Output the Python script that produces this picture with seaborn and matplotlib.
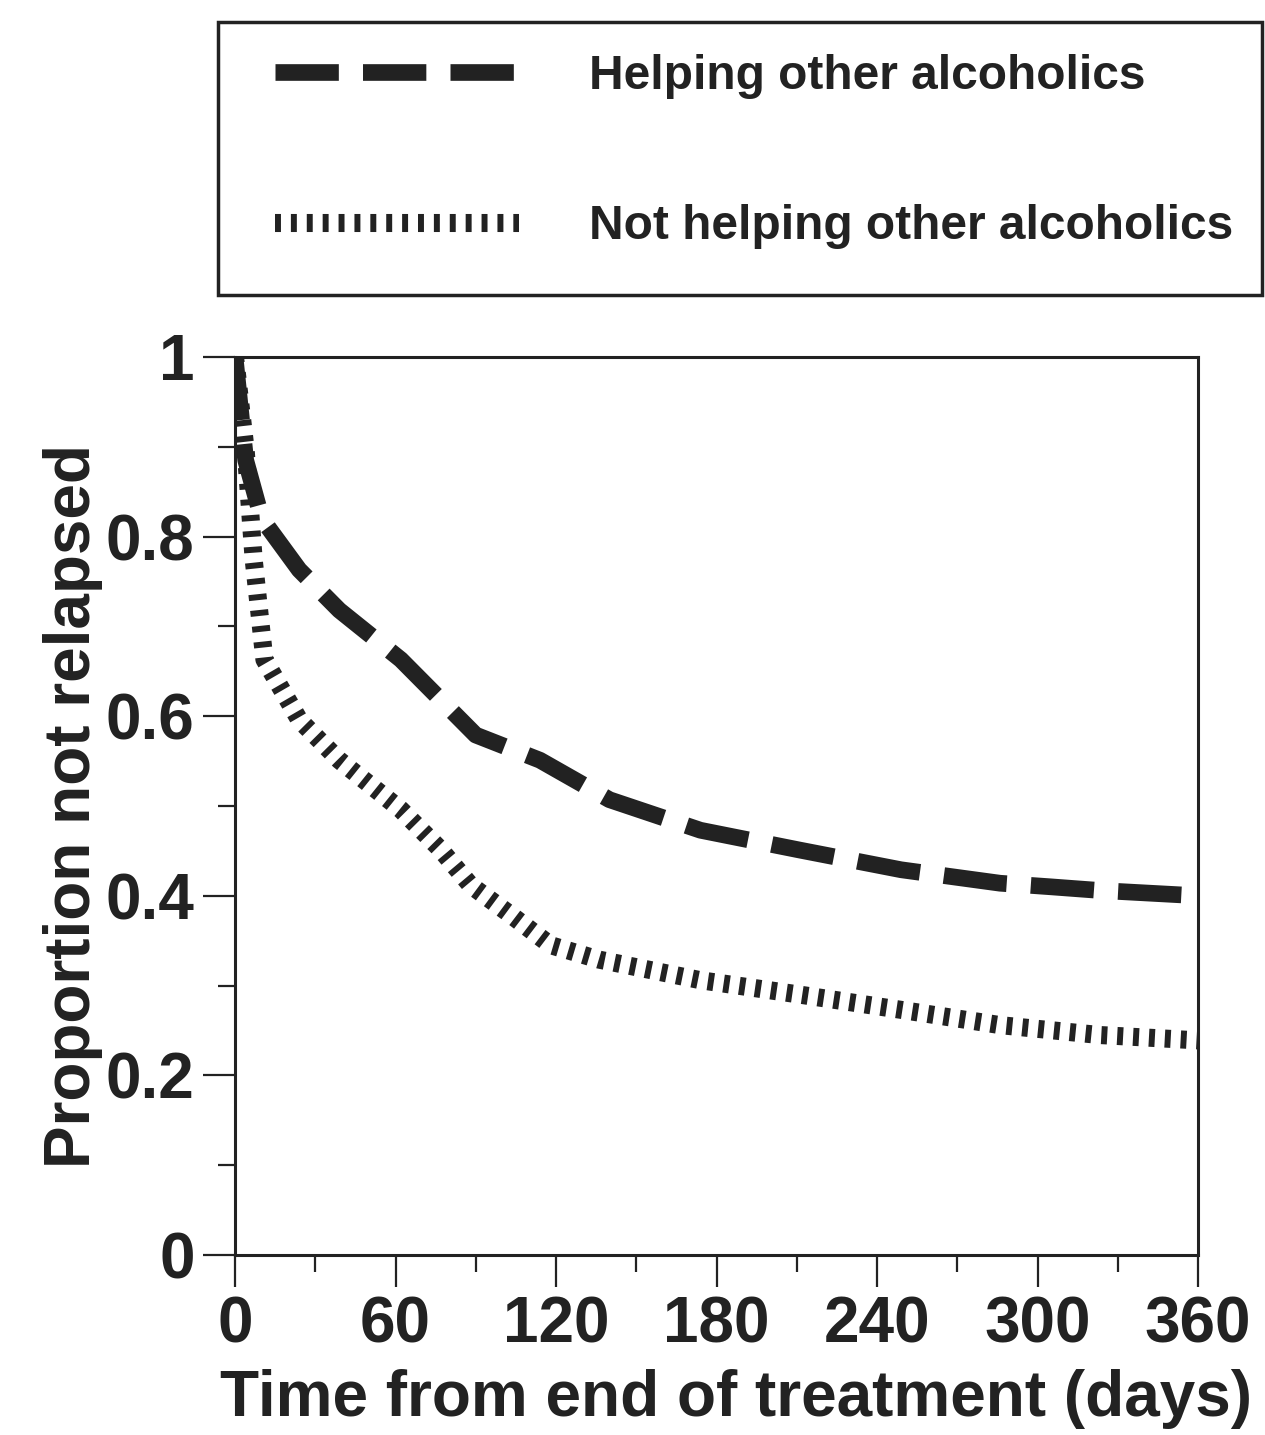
import pandas as pd
import matplotlib
matplotlib.use("Agg")
import matplotlib.pyplot as plt
from matplotlib.patches import Rectangle
from matplotlib.ticker import MultipleLocator, FixedLocator
import seaborn as sns

# === Data
days_helping = [0, 4, 10, 24, 39, 62, 77, 90, 114, 140, 174, 211, 249, 286, 305, 323, 360]
prop_helping = [1.0, 0.885, 0.82, 0.763, 0.718, 0.663, 0.618, 0.579, 0.551, 0.507,
                0.473, 0.451, 0.429, 0.414, 0.41, 0.406, 0.40]

days_not = [0, 4, 7, 11, 24, 39, 62, 77, 88, 103, 118, 136, 174, 211, 249, 286, 323, 360]
prop_not = [1.0, 0.896, 0.774, 0.663, 0.596, 0.551, 0.496, 0.451, 0.412, 0.379, 0.345,
            0.329, 0.306, 0.29, 0.273, 0.256, 0.245, 0.239]

groups = ["Helping other alcoholics", "Not helping other alcoholics"]
x_ticks = [0, 60, 120, 180, 240, 300, 360]
y_ticks = [0, 0.2, 0.4, 0.6, 0.8, 1.0]
y_tick_labels = ["0", "0.2", "0.4", "0.6", "0.8", "1"]

df = pd.concat([
    pd.DataFrame({"days": days_helping, "prop": prop_helping, "group": groups[0]}),
    pd.DataFrame({"days": days_not, "prop": prop_not, "group": groups[1]}),
], ignore_index=True)

# === Style
sns.set_style("ticks")
plt.rcParams["font.family"] = ["Liberation Sans", "DejaVu Sans"]
plt.rcParams["font.weight"] = "bold"
ink = "#222222"
W, H = 1265, 1435

fig = plt.figure(figsize=(W / 100, H / 100), dpi=100)
ax = fig.add_axes([235 / W, 180 / H, 963 / W, 898 / H])

sns.lineplot(data=df, x="days", y="prop", style="group", style_order=groups,
             dashes={groups[0]: (3.8, 1.45), groups[1]: (0.33, 0.55)},
             color=ink, errorbar=None, sort=True, ax=ax, legend=False)
ax.lines[0].set_linewidth(12)
ax.lines[1].set_linewidth(13)
ax.lines[0].set_dashes((3.8, 1.45))
ax.lines[1].set_dashes((0.33, 0.55))
for line in ax.lines:
    line.set_dash_capstyle("butt")

ax.set_xlim(0, 360)
ax.set_ylim(0, 1)
ax.xaxis.set_major_locator(FixedLocator(x_ticks))
ax.xaxis.set_minor_locator(MultipleLocator(30))
ax.yaxis.set_major_locator(FixedLocator(y_ticks))
ax.yaxis.set_minor_locator(MultipleLocator(0.1))
ax.set_yticklabels(y_tick_labels)

for side in ["top", "right", "left", "bottom"]:
    ax.spines[side].set_visible(True)
    ax.spines[side].set_linewidth(2.2)
    ax.spines[side].set_color(ink)

ax.tick_params(which="major", direction="out", length=23, width=1.6, color=ink,
               labelsize=46, pad=6, labelcolor=ink)
ax.tick_params(which="minor", direction="out", length=12, width=1.6, color=ink)
for lab in ax.get_xticklabels() + ax.get_yticklabels():
    lab.set_fontweight("bold")

ax.set_xlabel("Time from end of treatment (days)", fontsize=46, fontweight="bold",
              color=ink)
ax.xaxis.set_label_coords(0.5 + 20 / 963, -0.127)
ax.set_ylabel("Proportion not relapsed", fontsize=46, fontweight="bold",
              color=ink, labelpad=2)

# === Legend box above the plot
fig.patches.append(Rectangle((218 / W, 1 - 295 / H), (1262 - 218) / W, (295 - 22) / H,
                             transform=fig.transFigure, fill=False, edgecolor=ink,
                             linewidth=2.5, zorder=5))
leg = fig.legend(handles=ax.lines[:2], labels=groups, loc="upper left",
                 bbox_to_anchor=(275 / W, 1 - 54 / H), borderaxespad=0, borderpad=0,
                 fontsize=34.5, handlelength=5.1, handletextpad=1.45,
                 labelspacing=2.2, frameon=False)
for txt in leg.get_texts():
    txt.set_fontweight("bold")
    txt.set_color(ink)

fig.savefig("out.png", dpi=100)
